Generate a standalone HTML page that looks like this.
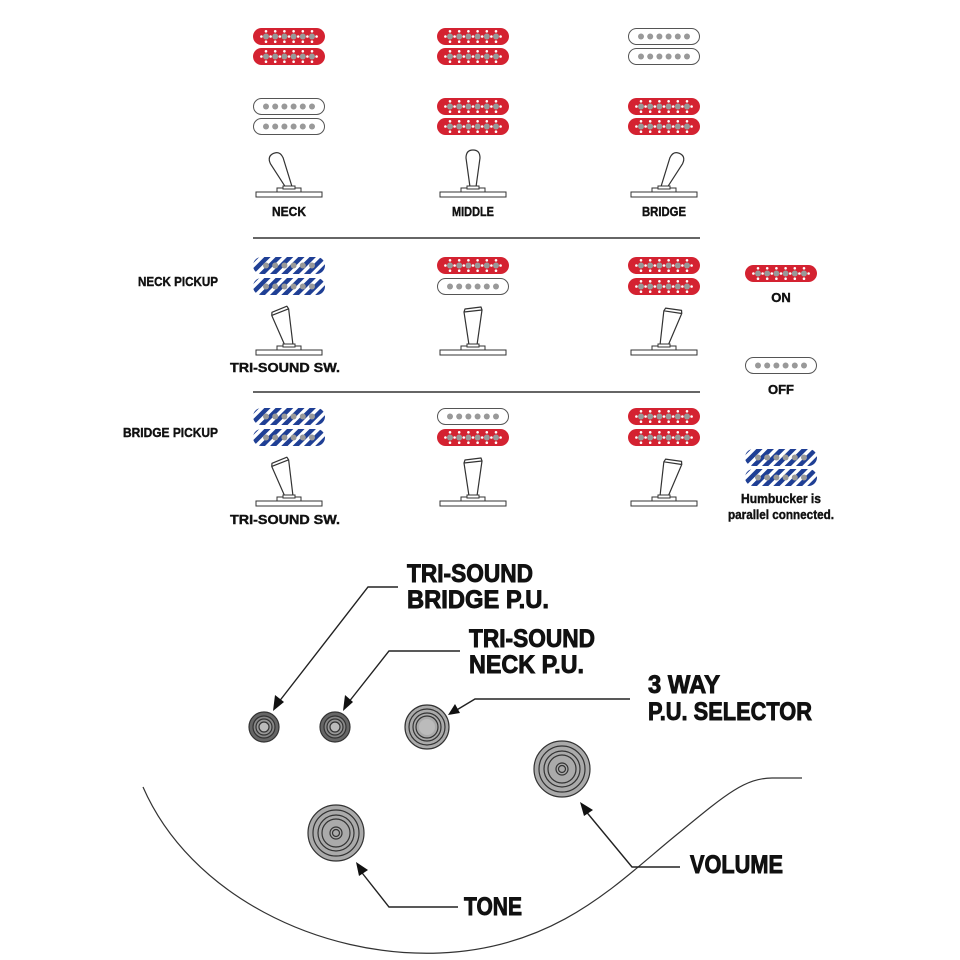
<!DOCTYPE html>
<html><head><meta charset="utf-8"><style>
html,body{margin:0;padding:0;background:#fff;}
svg{display:block;}
text{font-family:"Liberation Sans",sans-serif;font-weight:bold;fill:#111;stroke:#111;stroke-width:0.4;}
text.big{stroke-width:0.9;}
</style></head><body>
<svg width="960" height="960" viewBox="0 0 960 960" xmlns="http://www.w3.org/2000/svg">
<defs>
<pattern id="stripe" width="8" height="8" patternUnits="userSpaceOnUse" patternTransform="rotate(45)">
<rect width="8" height="8" fill="#fff"/><rect width="4.5" height="8" fill="#1f3f95"/>
</pattern>
<g id="poles">
<circle cx="13" cy="8.5" r="3" fill="#999"/><circle cx="22.2" cy="8.5" r="3" fill="#999"/><circle cx="31.4" cy="8.5" r="3" fill="#999"/><circle cx="40.6" cy="8.5" r="3" fill="#999"/><circle cx="49.8" cy="8.5" r="3" fill="#999"/><circle cx="59" cy="8.5" r="3" fill="#999"/>
</g>
<g id="wdots" fill="#fff">
<circle cx="8.4" cy="8.5" r="1.3"/><circle cx="17.6" cy="8.5" r="1.3"/><circle cx="26.8" cy="8.5" r="1.3"/><circle cx="36" cy="8.5" r="1.3"/><circle cx="45.2" cy="8.5" r="1.3"/><circle cx="54.4" cy="8.5" r="1.3"/><circle cx="63.6" cy="8.5" r="1.3"/>
<circle cx="13" cy="3.3" r="1.3"/><circle cx="22.2" cy="3.3" r="1.3"/><circle cx="31.4" cy="3.3" r="1.3"/><circle cx="40.6" cy="3.3" r="1.3"/><circle cx="49.8" cy="3.3" r="1.3"/><circle cx="59" cy="3.3" r="1.3"/>
<circle cx="13" cy="13.7" r="1.3"/><circle cx="22.2" cy="13.7" r="1.3"/><circle cx="31.4" cy="13.7" r="1.3"/><circle cx="40.6" cy="13.7" r="1.3"/><circle cx="49.8" cy="13.7" r="1.3"/><circle cx="59" cy="13.7" r="1.3"/>
</g>
<g id="red"><rect x="0" y="0" width="72" height="17" rx="8.5" fill="#d42231"/><use href="#poles"/><use href="#wdots"/></g>
<g id="white"><rect x="0.5" y="0.5" width="71" height="16" rx="8" fill="#fff" stroke="#555" stroke-width="1"/><use href="#poles"/></g>
<g id="blue"><rect x="0" y="0" width="72" height="17" rx="8.5" fill="url(#stripe)"/><use href="#poles"/></g>
<g id="plate"><rect x="-33" y="0" width="66" height="5" fill="#fff" stroke="#333" stroke-width="1"/><rect x="-12" y="-4" width="24" height="4" fill="#fff" stroke="#333" stroke-width="1"/><rect x="-6" y="-6" width="12" height="3" fill="#fff" stroke="#333" stroke-width="1"/></g>
<path id="lev" d="M-3,-5 L-7,-34 Q-7,-42 0,-42 Q7,-42 7,-34 L3,-5 Z" fill="#fff" stroke="#333" stroke-width="1.2"/>
<path id="tlev" d="M-4,-5 L-9,-38 L9,-40 L4,-5 Z M-9,-38 L9,-40 L8,-43 L-8,-41 Z" fill="#fff" stroke="#333" stroke-width="1.2" stroke-linejoin="round"/>
</defs>

<use href="#red" x="253" y="28"/><use href="#red" x="253" y="48"/>
<use href="#red" x="437" y="28"/><use href="#red" x="437" y="48"/>
<use href="#white" x="628" y="28"/><use href="#white" x="628" y="48"/>
<use href="#white" x="253" y="98"/><use href="#white" x="253" y="118"/>
<use href="#red" x="437" y="98"/><use href="#red" x="437" y="118"/>
<use href="#red" x="628" y="98"/><use href="#red" x="628" y="118"/>
<g transform="translate(289,192)"><use href="#lev" transform="rotate(-25 0 -5)"/><use href="#plate"/></g>
<g transform="translate(473,192)"><use href="#lev"/><use href="#plate"/></g>
<g transform="translate(664,192)"><use href="#lev" transform="rotate(25 0 -5)"/><use href="#plate"/></g>
<text x="289" y="216" font-size="13" text-anchor="middle" textLength="34" lengthAdjust="spacingAndGlyphs">NECK</text>
<text x="473" y="216" font-size="13" text-anchor="middle" textLength="42" lengthAdjust="spacingAndGlyphs">MIDDLE</text>
<text x="664" y="216" font-size="13" text-anchor="middle" textLength="44" lengthAdjust="spacingAndGlyphs">BRIDGE</text>
<line x1="253" y1="238" x2="700" y2="238" stroke="#333" stroke-width="1.5"/>

<text x="138" y="286" font-size="13" textLength="80" lengthAdjust="spacingAndGlyphs">NECK PICKUP</text>
<use href="#blue" x="253" y="257"/><use href="#blue" x="253" y="278"/>
<use href="#red" x="437" y="257"/><use href="#white" x="437" y="278"/>
<use href="#red" x="628" y="257"/><use href="#red" x="628" y="278"/>
<g transform="translate(289,350)"><use href="#tlev" transform="rotate(-15 0 -5)"/><use href="#plate"/></g>
<g transform="translate(473,350)"><use href="#tlev"/><use href="#plate"/></g>
<g transform="translate(664,350)"><use href="#tlev" transform="rotate(15 0 -5)"/><use href="#plate"/></g>
<text x="285" y="372" font-size="13" text-anchor="middle" textLength="110" lengthAdjust="spacingAndGlyphs">TRI-SOUND SW.</text>
<line x1="253" y1="392" x2="700" y2="392" stroke="#333" stroke-width="1.5"/>

<text x="123" y="437" font-size="13" textLength="95" lengthAdjust="spacingAndGlyphs">BRIDGE PICKUP</text>
<use href="#blue" x="253" y="408"/><use href="#blue" x="253" y="429"/>
<use href="#white" x="437" y="408"/><use href="#red" x="437" y="429"/>
<use href="#red" x="628" y="408"/><use href="#red" x="628" y="429"/>
<g transform="translate(289,501)"><use href="#tlev" transform="rotate(-15 0 -5)"/><use href="#plate"/></g>
<g transform="translate(473,501)"><use href="#tlev"/><use href="#plate"/></g>
<g transform="translate(664,501)"><use href="#tlev" transform="rotate(15 0 -5)"/><use href="#plate"/></g>
<text x="285" y="524" font-size="13" text-anchor="middle" textLength="110" lengthAdjust="spacingAndGlyphs">TRI-SOUND SW.</text>

<use href="#red" x="745" y="265"/>
<text x="781" y="302" font-size="13" text-anchor="middle">ON</text>
<use href="#white" x="745" y="357"/>
<text x="781" y="394" font-size="13" text-anchor="middle">OFF</text>
<use href="#blue" x="745" y="449"/><use href="#blue" x="745" y="469"/>
<text x="781" y="503" font-size="12.5" text-anchor="middle" textLength="80" lengthAdjust="spacingAndGlyphs">Humbucker is</text>
<text x="781" y="519" font-size="12.5" text-anchor="middle" textLength="106" lengthAdjust="spacingAndGlyphs">parallel connected.</text>

<path d="M143,787 C190,895 320,958 440,953 C560,948 620,880 680,832 C725,795 745,778 772,778 L802,778" fill="none" stroke="#333" stroke-width="1.2"/>

<g stroke="#333" stroke-width="1.2">
<g transform="translate(264,727)"><circle r="15" fill="#666"/><circle r="11" fill="#888"/><circle r="8" fill="#999"/><circle r="5" fill="#bbb"/></g>
<g transform="translate(335,727)"><circle r="15" fill="#666"/><circle r="11" fill="#888"/><circle r="8" fill="#999"/><circle r="5" fill="#bbb"/></g>
<g transform="translate(427,727)"><circle r="22" fill="#aaa"/><circle r="18" fill="#aaa"/><circle r="14" fill="#aaa"/><circle r="11" fill="#aaa"/><circle r="8" fill="#bbb" stroke="none"/></g>
<g transform="translate(562,769)"><circle r="28" fill="#aaa"/><circle r="23" fill="#aaa"/><circle r="18" fill="#aaa"/><circle r="14" fill="#aaa"/><circle r="6" fill="#aaa"/><circle r="3.5" fill="#aaa"/></g>
<g transform="translate(336,833)"><circle r="28" fill="#aaa"/><circle r="23" fill="#aaa"/><circle r="18" fill="#aaa"/><circle r="14" fill="#aaa"/><circle r="6" fill="#aaa"/><circle r="3.5" fill="#aaa"/></g>
</g>

<g fill="none" stroke="#222" stroke-width="1.4">
<polyline points="398,587 368,587 278,703"/>
<polyline points="460,651 389,651 348,703"/>
<polyline points="630,699 475,699 455,711"/>
<polyline points="680,867 632,867 584,809"/>
<polyline points="458,907 389,907 359,869"/>
</g>
<g fill="#111">
<polygon points="273,711 275,695 284,702"/>
<polygon points="343,711 345,695 353,702"/>
<polygon points="448,715 455,704 460,713"/>
<polygon points="580,802 593,810 584,816"/>
<polygon points="356,862 368,870 359,876"/>
</g>

<text class="big" x="407" y="582" font-size="25" textLength="126" lengthAdjust="spacingAndGlyphs">TRI-SOUND</text>
<text class="big" x="407" y="608" font-size="25" textLength="142" lengthAdjust="spacingAndGlyphs">BRIDGE P.U.</text>
<text class="big" x="469" y="647" font-size="25" textLength="126" lengthAdjust="spacingAndGlyphs">TRI-SOUND</text>
<text class="big" x="469" y="673" font-size="25" textLength="115" lengthAdjust="spacingAndGlyphs">NECK P.U.</text>
<text class="big" x="648" y="693" font-size="25" textLength="72" lengthAdjust="spacingAndGlyphs">3 WAY</text>
<text class="big" x="648" y="720" font-size="25" textLength="164" lengthAdjust="spacingAndGlyphs">P.U. SELECTOR</text>
<text class="big" x="690" y="873" font-size="25" textLength="93" lengthAdjust="spacingAndGlyphs">VOLUME</text>
<text class="big" x="464" y="915" font-size="25" textLength="58" lengthAdjust="spacingAndGlyphs">TONE</text>
</svg>
</body></html>
